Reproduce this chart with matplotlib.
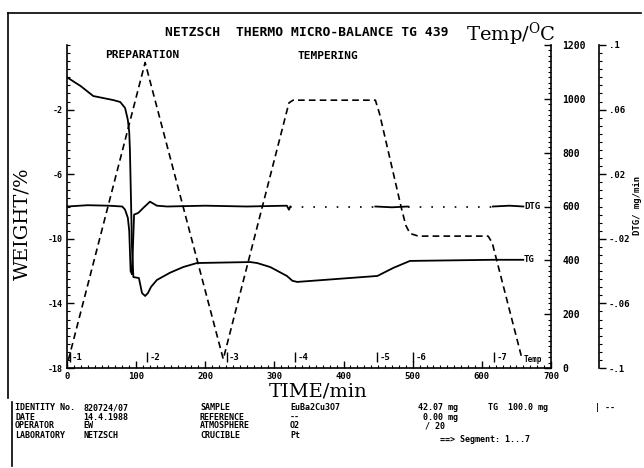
import numpy as np
import matplotlib
matplotlib.use("Agg")
import matplotlib.pyplot as plt
from matplotlib.ticker import MultipleLocator, FixedLocator, FixedFormatter
from matplotlib.lines import Line2D

plt.rcParams['font.family'] = ['DejaVu Sans Mono']
plt.rcParams['font.weight'] = 'bold'
plt.rcParams['axes.unicode_minus'] = False

# TG curve (weight loss in %)
tg_time = [0, 20, 38, 67, 77, 84, 88, 90, 91, 94, 96, 104, 108.5, 113, 117, 121.5, 130, 149,
           168, 188, 265, 275, 294, 318, 326, 333, 449, 472, 496, 616, 660]
tg_weight = [0.0, -0.55, -1.16, -1.41, -1.53, -1.9, -2.64, -3.39, -4.5, -10.5, -12.37, -12.43,
             -13.36, -13.54, -13.36, -12.98, -12.55, -12.1, -11.75, -11.5, -11.44, -11.5, -11.75,
             -12.3, -12.6, -12.67, -12.3, -11.8, -11.37, -11.3, -11.3]

# DTG curve
dtg_time = [0, 30, 60, 80, 84, 88, 90, 92, 94, 97, 103, 110, 120, 130, 145, 200, 260, 318, 321,
            323, 380, 446, 470, 493, 560, 616, 640, 660]
dtg_value = [0.0, 0.0008, 0.0005, 0.0, -0.002, -0.007, -0.015, -0.040, -0.042, -0.005, -0.004,
             -0.001, 0.003, 0.0005, 0.0, 0.0005, 0.0, 0.0005, -0.002, 0.0, 0.0, 0.0, -0.0005, 0.0,
             0.0, 0.0, 0.0005, 0.0]
dtg_dotted = [(323, 446), (493, 616)]

# temperature program
temp_time = [2, 113, 226, 321, 327, 446, 452, 484, 490, 496, 508, 609, 615, 658]
temp_value = [30, 1135, 33, 985, 995, 995, 945, 590, 530, 500, 490, 490, 465, 35]

# segment starts
seg_time = [4, 116, 231, 330, 449, 501, 618]
seg_label = ["-1", "-2", "-3", "-4", "-5", "-6", "-7"]

weight_ticks = [-18, -14, -10, -6, -2]
temp_ticks = [0, 200, 400, 600, 800, 1000, 1200]
dtg_ticks = [0.1, 0.06, 0.02, -0.02, -0.06, -0.1]
dtg_ticklabels = [".1", ".06", ".02", "-.02", "-.06", "-.1"]

W, H = 644, 468
def fx(x):
    return x / W
def fy(y):
    return 1 - y / H

fig = plt.figure(figsize=(6.44, 4.68), dpi=100)
ax = fig.add_axes([fx(67), fy(368), (551 - 67) / W, (368 - 45) / H])
ax_t = ax.twinx()
ax_d = ax.twinx()

# weight axis
ax.set_xlim(0, 700)
ax.set_ylim(-18, 2)
ax.set_xticks(range(0, 701, 100))
ax.xaxis.set_minor_locator(MultipleLocator(10))
ax.set_yticks(weight_ticks)
ax.yaxis.set_minor_locator(MultipleLocator(0.5))
ax.tick_params(axis='x', which='major', direction='in', length=5, width=1, pad=3, labelsize=6.5)
ax.tick_params(axis='y', which='major', direction='in', length=5, width=1, pad=3, labelsize=6)
ax.tick_params(which='minor', direction='in', length=2.5, width=0.8)
ax.spines['top'].set_visible(False)
ax.spines['right'].set_visible(False)
for s in ('left', 'bottom'):
    ax.spines[s].set_linewidth(1.2)

# temperature axis
ax_t.set_ylim(0, 1200)
ax_t.set_yticks(temp_ticks)
ax_t.yaxis.set_minor_locator(MultipleLocator(20))
ax_t.tick_params(which='major', direction='in', length=5, width=1, pad=8, labelsize=7)
ax_t.tick_params(which='minor', direction='in', length=2.5, width=0.8)

# DTG axis
ax_d.spines['right'].set_position(('axes', (599 - 67) / (551 - 67)))
ax_d.set_ylim(-0.1, 0.1)
ax_d.yaxis.set_major_locator(FixedLocator(dtg_ticks))
ax_d.yaxis.set_major_formatter(FixedFormatter(dtg_ticklabels))
ax_d.yaxis.set_minor_locator(MultipleLocator(0.005))
ax_d.tick_params(which='major', direction='out', length=5, width=1, pad=2, labelsize=6.5)
ax_d.tick_params(which='minor', direction='out', length=2.5, width=0.8)

for a in (ax_t, ax_d):
    for s in ('top', 'left', 'bottom'):
        a.spines[s].set_visible(False)
    a.spines['right'].set_linewidth(1.2)

# curves
ax.plot(tg_time, tg_weight, color='black', lw=1.3)
ax_t.plot(temp_time, temp_value, color='black', lw=1.2, linestyle=(0, (4, 2.5)))

t = np.array(dtg_time, dtype=float)
v = np.array(dtg_value, dtype=float)
dotted = np.zeros(len(t), dtype=bool)
for a, b in dtg_dotted:
    dotted |= (t >= a) & (t <= b)
solid = ~dotted
for a, b in dtg_dotted:
    solid |= (t == a) | (t == b)
ax_d.plot(t, np.where(solid, v, np.nan), color='black', lw=1.3)
ax_d.plot(t, np.where(dotted, v, np.nan), color='black', lw=1.2, linestyle=(0, (1, 6)))

# curve labels
ax.text(tg_time[-1] + 1, tg_weight[-1], "TG", fontsize=6.5, va='center', ha='left')
ax_d.text(dtg_time[-1] + 1, dtg_value[-1], "DTG", fontsize=6.5, va='center', ha='left')
ax.text(temp_time[-1] + 3, 0.025, "Temp", fontsize=5.5, va='center', ha='left',
        transform=ax.get_xaxis_transform())

# segment markers
ax.vlines(seg_time, 0.018, 0.05, color='black', lw=1, transform=ax.get_xaxis_transform())
for st, sl in zip(seg_time, seg_label):
    ax.text(st + 3, 0.034, sl, fontsize=6.5, va='center', ha='left',
            transform=ax.get_xaxis_transform())

# titles and axis labels
fig.text(fx(165), fy(32), "NETZSCH  THERMO MICRO-BALANCE TG 439", fontsize=9.4, va='center', ha='left')
fig.text(fx(105), fy(55), "PREPARATION", fontsize=8, va='center', ha='left')
fig.text(fx(298), fy(56), "TEMPERING", fontsize=8, va='center', ha='left')
fig.text(fx(556), fy(34), r"Temp/$\mathregular{^O}$C", family='DejaVu Serif', weight='normal',
         fontsize=14, va='center', ha='right')
fig.text(fx(318), fy(391), "TIME/min", family='DejaVu Serif', weight='normal', fontsize=14,
         va='center', ha='center')
fig.text(fx(22), fy(224), "WEIGHT/%", family='DejaVu Serif', weight='normal', fontsize=14,
         va='center', ha='center', rotation=90)
fig.text(fx(638), fy(205), "DTG/ mg/min", fontsize=6.5, va='center', ha='center', rotation=90)

# frame
fig.add_artist(Line2D([fx(8), fx(641)], [fy(13), fy(13)], color='black', lw=1.2))
fig.add_artist(Line2D([fx(8), fx(8)], [fy(13), fy(398)], color='black', lw=1.2))
fig.add_artist(Line2D([fx(12), fx(12)], [fy(402), fy(466)], color='black', lw=1.2))

# info block
info_rows = [
    ["IDENTITY No.", "820724/07", "SAMPLE", "EuBa2Cu3O7"],
    ["DATE", "14.4.1988", "REFERENCE", "--"],
    ["OPERATOR", "EW", "ATMOSPHERE", "O2"],
    ["LABORATORY", "NETZSCH", "CRUCIBLE", "Pt"],
]
info_cols = [15, 83, 200, 290]
info_y = [408, 417, 426, 435]
for row, y in zip(info_rows, info_y):
    for txt, x in zip(row, info_cols):
        fig.text(fx(x), fy(y), txt, fontsize=6, va='center', ha='left')

fig.text(fx(418), fy(408), "42.07 mg", fontsize=6, va='center', ha='left')
fig.text(fx(418), fy(417), " 0.00 mg", fontsize=6, va='center', ha='left')
fig.text(fx(425), fy(426), "/ 20", fontsize=6, va='center', ha='left')
fig.text(fx(488), fy(408), "TG  100.0 mg", fontsize=6, va='center', ha='left')
fig.text(fx(595), fy(408), "| --", fontsize=6, va='center', ha='left')
fig.text(fx(440), fy(440), "==> Segment: 1...7", fontsize=6, va='center', ha='left')

fig.savefig("out.png", dpi=100)
